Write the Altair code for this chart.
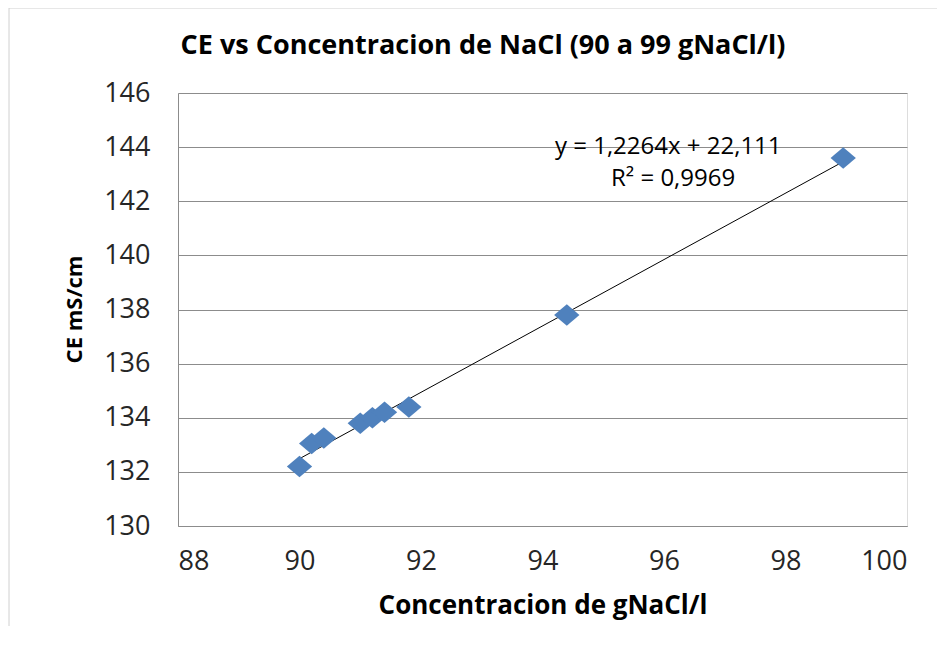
import altair as alt
import pandas as pd

# Data
conc = [90.0, 90.2, 90.4, 91.0, 91.2, 91.4, 91.8, 94.4, 98.95]
ce = [132.2, 133.05, 133.25, 133.8, 134.0, 134.2, 134.4, 137.8, 143.6]

slope = 1.2264
intercept = 22.111
r2 = 0.9969

x_ticks = [88, 90, 92, 94, 96, 98, 100]
y_ticks = [130, 132, 134, 136, 138, 140, 142, 144, 146]

TITLE = "CE vs Concentracion de NaCl (90 a 99 gNaCl/l)"
FONT = "Open Sans"
GRID = "#8c8c8c"
BLUE = "#4F81BD"

df = pd.DataFrame({"x": conc, "y": ce})
x_min, x_max = min(conc), max(conc)
trend = pd.DataFrame({"x": [x_min, x_max],
                      "y": [slope * x_min + intercept, slope * x_max + intercept]})

def fmt(v, nd):
    return f"{v:.{nd}f}".replace(".", ",")

eq_df = pd.DataFrame({
    "x": [96.07, 96.15],
    "y": [144.0, 142.84],
    "t": [f"y = {fmt(slope, 4)}x + {fmt(intercept, 3)}", f"R² = {fmt(r2, 4)}"],
})

xscale = alt.Scale(domain=[88, 100], nice=False, zero=False)
yscale = alt.Scale(domain=[130, 146], nice=False, zero=False)

xaxis = alt.Axis(values=x_ticks, format="d", title="Concentracion de gNaCl/l", grid=False,
                 ticks=False, tickSize=0, labelPadding=22, labelFontSize=27,
                 labelFont=FONT, labelColor="#262626", domainColor=GRID,
                 titleFont=FONT, titleFontSize=26, titleFontWeight="bold",
                 titleColor="#000000", titleY=79, titleBaseline="middle")
yaxis = alt.Axis(values=y_ticks, format="d", title="CE mS/cm", grid=True, gridColor=GRID,
                 ticks=False, tickSize=0, labelPadding=28, labelFontSize=27,
                 labelFont=FONT, labelColor="#262626", domainColor=GRID,
                 titleFont=FONT, titleFontSize=22, titleFontWeight="bold",
                 titleColor="#000000", titleX=-104, titleY=216,
                 titleBaseline="middle", titleAngle=-90)

points = alt.Chart(df).mark_point(
    shape="M-1,0L0,-0.85L1,0L0,0.85Z", filled=True, size=640, color=BLUE, opacity=1
).encode(
    x=alt.X("x:Q", scale=xscale, axis=xaxis),
    y=alt.Y("y:Q", scale=yscale, axis=yaxis),
)

line = alt.Chart(trend).mark_line(color="#000000", strokeWidth=1).encode(
    x=alt.X("x:Q", scale=xscale),
    y=alt.Y("y:Q", scale=yscale),
)

eq = alt.Chart(eq_df).mark_text(font=FONT, fontSize=24, color="#000000",
                                align="center", baseline="middle").encode(
    x=alt.X("x:Q", scale=xscale),
    y=alt.Y("y:Q", scale=yscale),
    text="t:N",
)

title = alt.Chart(pd.DataFrame({"t": [TITLE]})).mark_text(
    font=FONT, fontSize=27, fontWeight="bold", color="#000000",
    align="center", baseline="middle"
).encode(x=alt.value(305), y=alt.value(-47), text="t:N")

border = alt.Chart(pd.DataFrame({"a": [0]})).mark_rule(color="#d0d0d0", strokeWidth=1).encode(
    x=alt.value(-169), y=alt.value(-85), y2=alt.value(540)
)
border_top = alt.Chart(pd.DataFrame({"a": [0]})).mark_rule(color="#d0d0d0", strokeWidth=1).encode(
    x=alt.value(-169), x2=alt.value(760), y=alt.value(-85)
)

chart = alt.layer(border, border_top, line, points, eq, title).properties(
    width=729, height=433,
    autosize=alt.AutoSizeParams(type="none"),
    padding={"left": 170, "top": 85, "right": 30, "bottom": 100},
).configure_view(stroke=None).configure(background="white")

chart.save("out.html", embed_options={"renderer": "svg", "actions": False})
